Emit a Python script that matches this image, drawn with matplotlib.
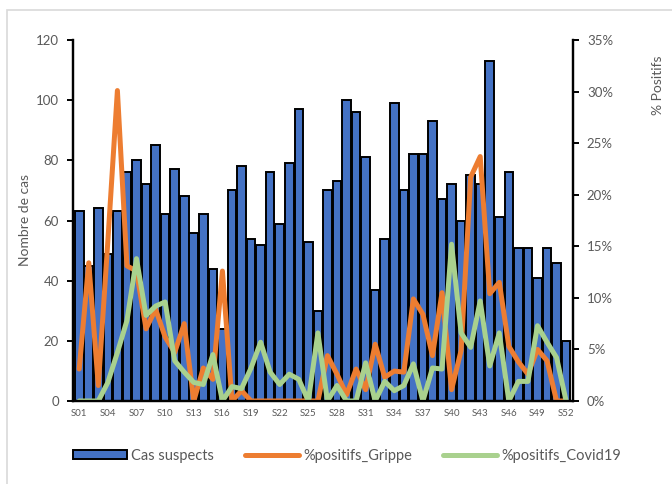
"""Cas suspects par semaine + % positifs grippe / covid (reprise du graphique Excel)."""

import matplotlib

matplotlib.use("Agg")
import matplotlib.pyplot as plt  # noqa: E402
from matplotlib.patches import Rectangle  # noqa: E402

plt.rcParams["font.family"] = ["Lato", "DejaVu Sans"]

# ---- données
weeks = [f"S{i:02d}" for i in range(1, 53)]

cas_suspects = [
    63, 45, 64, 49, 63, 76, 80, 72, 85, 62,
    77, 68, 56, 62, 44, 24, 70, 78, 54, 52,
    76, 59, 79, 97, 53, 30, 70, 73, 100, 96,
    81, 37, 54, 99, 70, 82, 82, 93, 67, 72,
    60, 75, 72, 113, 61, 76, 51, 51, 41, 51,
    46, 20,
]

pct_grippe = [
    3.1, 13.4, 1.5, 15.5, 30.1, 13.1, 12.6, 7.0, 8.9, 6.2,
    4.7, 7.5, 0.0, 3.2, 2.1, 12.6, 0.0, 1.0, 0.0, 0.0,
    0.0, 0.0, 0.0, 0.0, 0.0, 0.0, 4.4, 2.6, 0.6, 3.1,
    1.1, 5.5, 2.3, 2.9, 2.8, 9.9, 8.4, 4.4, 10.5, 1.1,
    4.9, 21.7, 23.7, 10.4, 11.5, 5.3, 3.8, 2.6, 5.0, 3.9,
    0.0, 0.0,
]

pct_covid = [
    0.0, 0.0, 0.0, 1.8, 4.7, 7.8, 13.8, 8.3, 9.2, 9.6,
    3.9, 2.8, 1.8, 1.6, 4.5, 0.0, 1.4, 1.2, 3.2, 5.7,
    2.8, 1.6, 2.6, 2.1, 0.0, 6.6, 0.0, 1.5, 0.0, 0.0,
    3.7, 0.0, 1.9, 1.0, 1.5, 3.6, 0.0, 3.2, 3.1, 15.2,
    6.6, 5.2, 9.7, 3.4, 6.6, 0.0, 1.9, 1.9, 7.3, 5.7,
    4.2, 0.0,
]

left_ticks = [0, 20, 40, 60, 80, 100, 120]
right_ticks = [0, 5, 10, 15, 20, 25, 30, 35]

BLUE = "#4472C4"
ORANGE = "#ED7D31"
GREEN = "#A9D18E"
GREY = "#595959"

fig = plt.figure(figsize=(6.72, 4.84), dpi=100)
ax = fig.add_axes([73 / 672, 1 - 401 / 484, 500 / 672, 361 / 484])
ax2 = ax.twinx()

x = list(range(len(weeks)))

# ---- barres (axe gauche)
bars = ax.bar(x, cas_suspects, width=0.9, color=BLUE, edgecolor="black",
              linewidth=1.4, label="Cas suspects", zorder=2)

# ---- courbes (axe droit, en %)
l1, = ax2.plot(x, pct_grippe, color=ORANGE, linewidth=3.6, solid_joinstyle="round",
               solid_capstyle="round", label="%positifs_Grippe")
l2, = ax2.plot(x, pct_covid, color=GREEN, linewidth=3.6, solid_joinstyle="round",
               solid_capstyle="round", label="%positifs_Covid19")

ax.set_xlim(-0.65, len(weeks) - 1 + 0.72)
ax.set_ylim(0, 120)
ax2.set_ylim(0, 35)

ax.set_yticks(left_ticks)
ax2.set_yticks(right_ticks)
ax2.set_yticklabels([f"{v}%" for v in right_ticks])

ax.set_xticks(x[::3])
ax.set_xticklabels(weeks[::3])

for a in (ax, ax2):
    a.spines["top"].set_visible(False)
    for side in ("left", "right", "bottom"):
        a.spines[side].set_linewidth(1.6)
        a.spines[side].set_color("black")
    a.tick_params(axis="y", colors="black", labelcolor=GREY, labelsize=9.5,
                  length=4, width=1.4, pad=6)
ax.tick_params(axis="x", length=0, labelsize=7, labelcolor=GREY, pad=6)

fig.text(25 / 672, 1 - 220 / 484, "Nombre de cas", rotation=90, ha="center",
         va="center", fontsize=10, color=GREY)
fig.text(658 / 672, 1 - 85 / 484, "% Positifs", rotation=90, ha="center",
         va="center", fontsize=10, color=GREY)

fig.legend(handles=[bars, l1, l2], loc="center", bbox_to_anchor=(0.516, 1 - 456 / 484),
           ncol=3, frameon=False, fontsize=10.5, handlelength=3.7, handleheight=0.55,
           columnspacing=2.1, handletextpad=0.3, labelcolor=GREY)

# cadre gris clair de la zone graphique Excel
fig.add_artist(Rectangle((7 / 672, -0.1), 1.0, 1.1 - 10 / 484, transform=fig.transFigure,
                         fill=False, edgecolor="#d9d9d9", linewidth=1.2))

fig.savefig("out.png", dpi=100)
plt.close(fig)
